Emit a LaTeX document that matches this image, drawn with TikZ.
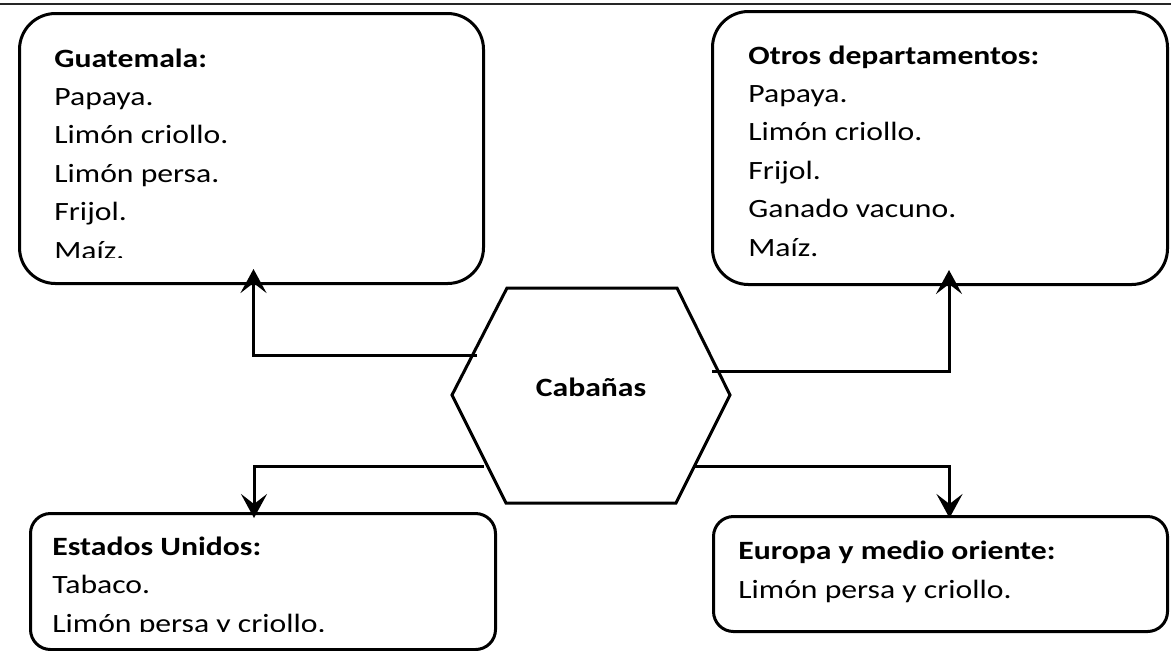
\documentclass[tikz,border=0pt]{standalone}
\usepackage{fontspec}
\setmainfont{Carlito}[FakeStretch=1.2]
\usetikzlibrary{arrows.meta}
\usetikzlibrary{calc}

\tikzset{
  salebox/.style={draw, line width=1.5pt, inner sep=0pt, anchor=north west},
  boxtext/.style={anchor=base west, inner sep=0pt, align=left, font=\fontsize{13.2}{19.2}\selectfont},
  conn/.style={line width=1.5pt, -{Stealth[length=12pt,width=13pt,inset=5pt]}},
}

\begin{document}
\begin{tikzpicture}[x=0.5pt,y=0.5pt,yscale=-1,xscale=1]
\useasboundingbox (0,0) rectangle (1171,650);

%Rule on top of the page
\draw [line width=1pt, black!85] (0,4) -- (1171,4);

%Boxes [destinations]
\node [salebox, rounded corners=18pt, minimum width=232pt, minimum height=135pt] (guat) at (18,12) {};
\node [salebox, rounded corners=18pt, minimum width=227.5pt, minimum height=136.5pt] (otros) at (711,10) {};
\node [salebox, rounded corners=10pt, minimum width=232.5pt, minimum height=68pt] (eeuu) at (29,512) {};
\node [salebox, rounded corners=10pt, minimum width=227pt, minimum height=57.5pt] (europa) at (712,515) {};

%Shape: Hexagon
\draw [line width=1.5pt] (507,288) -- (677,288) -- (730,395) -- (676,503) -- (506,503) -- (452,395) -- cycle ;
\node [boxtext, anchor=base] (cab) at (591,396) {\textbf{Cabañas}};

\coordinate (cabNW) at (477,355);
\coordinate (cabNE) at (712,371);
\coordinate (cabSW) at (484,466);
\coordinate (cabSE) at (694,466);

% Text Nodes (base = last line)
\begin{scope}
\clip (18,12) rectangle (482,257.5);
\node [boxtext] (guatT) at (54,259) {\textbf{Guatemala:}\\Papaya.\\Limón criollo.\\Limón persa.\\Frijol.\\Maíz.};
\end{scope}
\node [boxtext] (otrosT) at (748,256) {\textbf{Otros departamentos:}\\Papaya.\\Limón criollo.\\Frijol.\\Ganado vacuno.\\Maíz.};
\begin{scope}
\clip (29,512) rectangle (494,631);
\node [boxtext] (eeuuT) at (52,632) {\textbf{Estados Unidos:}\\Tabaco.\\Limón persa y criollo.};
\end{scope}
\node [boxtext] (europaT) at (738,598) {\textbf{Europa y medio oriente:}\\Limón persa y criollo.};

%Connectors
\draw [conn] (cabNW) -| ($(guat.south)+(2,-16)$);
\draw [conn] (cabNE) -| ($(otros.south)+(9,-16)$);
\draw [conn] (cabSW) -| ($(eeuu.north)+(-9,6)$);
\draw [conn] (cabSE) -| ($(europa.north)+(9,3)$);

\end{tikzpicture}
\end{document}
